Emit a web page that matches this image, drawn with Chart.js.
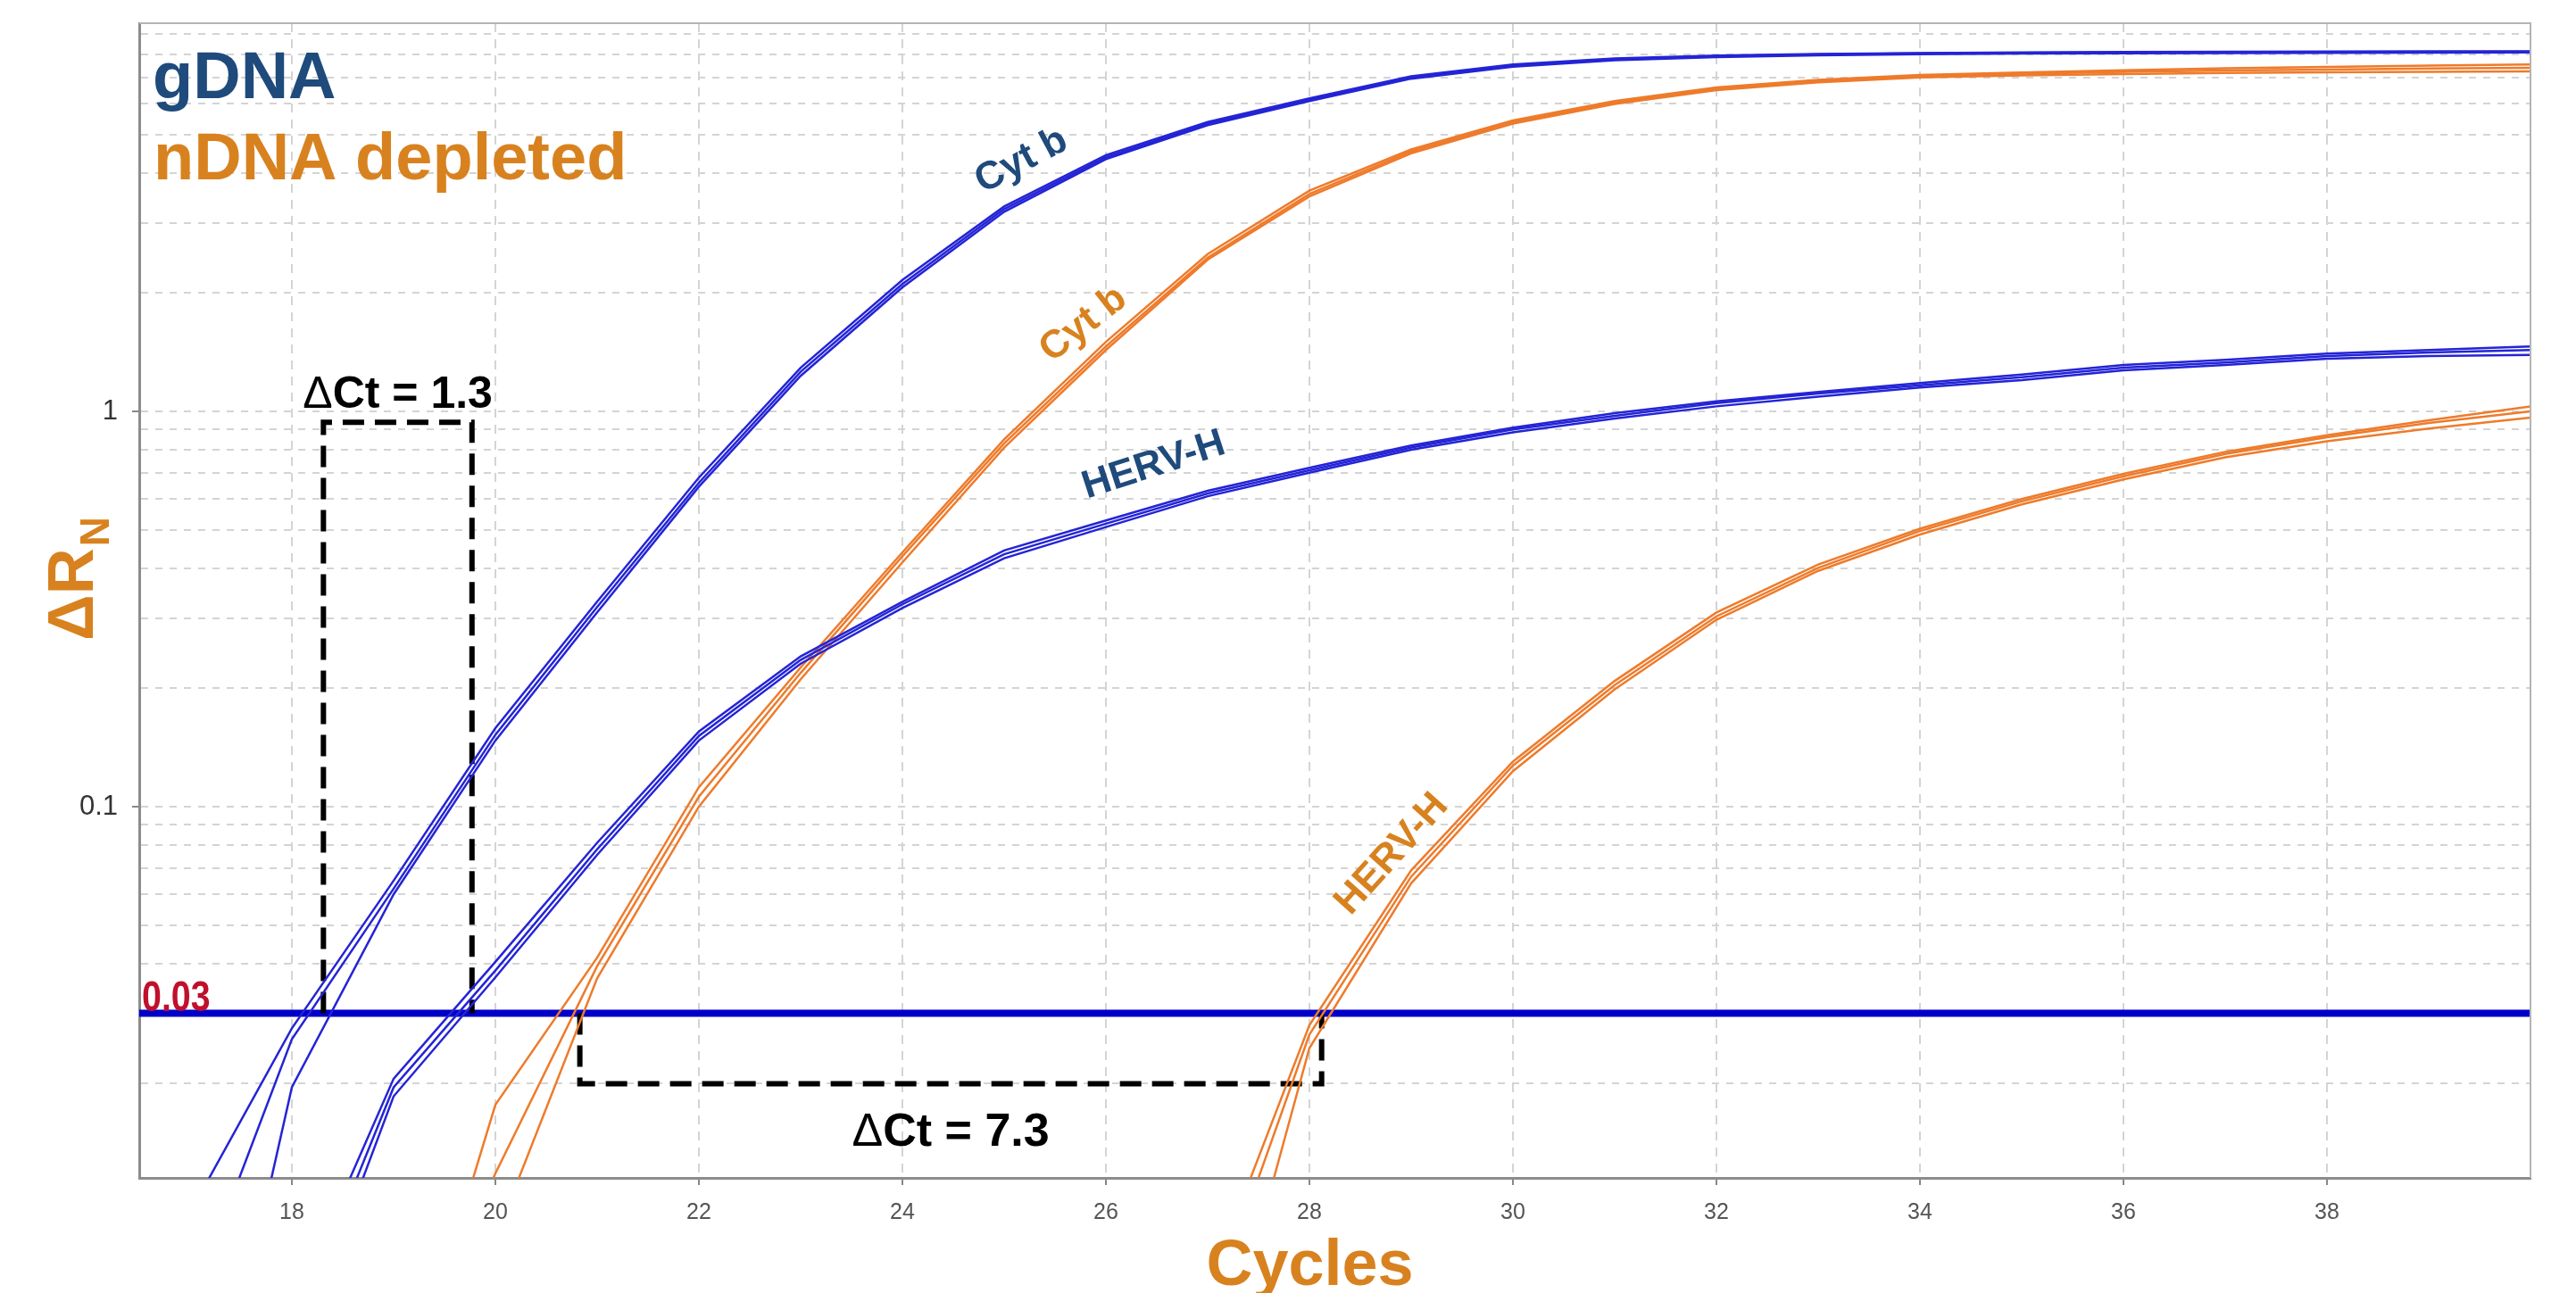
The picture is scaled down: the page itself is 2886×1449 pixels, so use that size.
<!DOCTYPE html>
<html>
<head>
<meta charset="utf-8">
<script src="https://cdn.jsdelivr.net/npm/chart.js@4.4.1/dist/chart.umd.min.js"></script>
<style>
  html, body { margin: 0; padding: 0; background: #fff; }
  #wrap { width: 2886px; height: 1449px; }
</style>
</head>
<body>
<div id="wrap"><canvas id="qpcrChart"></canvas></div>
<script>
const cycles = [17, 18, 19, 20, 21, 22, 23, 24, 25, 26, 27, 28, 29, 30, 31, 32, 33, 34, 35, 36, 37, 38, 39, 40];

// gDNA, Cyt b (3 replicates)
const gdnaCytb1 = [0.0094, 0.0275, 0.065, 0.158, 0.33, 0.68, 1.29, 2.15, 3.3, 4.45, 5.4, 6.2, 7.05, 7.55, 7.82, 7.95, 8.02, 8.07, 8.1, 8.12, 8.13, 8.14, 8.15, 8.15];
const gdnaCytb2 = [0.0054, 0.0258, 0.062, 0.152, 0.32, 0.66, 1.26, 2.1, 3.25, 4.4, 5.35, 6.15, 7.0, 7.5, 7.78, 7.92, 8.0, 8.05, 8.08, 8.1, 8.11, 8.12, 8.12, 8.13];
const gdnaCytb3 = [0.0014, 0.0195, 0.06, 0.147, 0.31, 0.645, 1.23, 2.06, 3.2, 4.35, 5.3, 6.1, 6.95, 7.45, 7.74, 7.88, 7.96, 8.01, 8.04, 8.06, 8.07, 8.08, 8.09, 8.1];

// gDNA, HERV-H
const gdnaHerv1 = [null, 0.0053, 0.0205, 0.0405, 0.081, 0.155, 0.24, 0.33, 0.445, 0.53, 0.63, 0.72, 0.82, 0.91, 0.99, 1.06, 1.12, 1.18, 1.24, 1.31, 1.35, 1.4, 1.43, 1.46];
const gdnaHerv2 = [null, 0.0045, 0.0195, 0.0385, 0.078, 0.151, 0.235, 0.325, 0.435, 0.52, 0.62, 0.71, 0.81, 0.9, 0.975, 1.05, 1.11, 1.165, 1.22, 1.29, 1.33, 1.38, 1.41, 1.43];
const gdnaHerv3 = [null, 0.0038, 0.0185, 0.037, 0.0755, 0.147, 0.23, 0.318, 0.425, 0.51, 0.61, 0.7, 0.8, 0.885, 0.96, 1.03, 1.09, 1.15, 1.2, 1.27, 1.31, 1.36, 1.38, 1.39];

// nDNA depleted, Cyt b
const ndnaCytb1 = [null, null, 0.0025, 0.0176, 0.0415, 0.112, 0.225, 0.44, 0.85, 1.5, 2.5, 3.62, 4.6, 5.45, 6.1, 6.6, 6.9, 7.1, 7.2, 7.3, 7.38, 7.44, 7.5, 7.55];
const ndnaCytb2 = [null, null, 0.003, 0.0118, 0.0395, 0.106, 0.218, 0.43, 0.83, 1.46, 2.45, 3.55, 4.55, 5.4, 6.05, 6.55, 6.85, 7.05, 7.15, 7.23, 7.29, 7.33, 7.37, 7.4];
const ndnaCytb3 = [null, null, 0.002, 0.0081, 0.0368, 0.1, 0.21, 0.415, 0.81, 1.43, 2.42, 3.5, 4.5, 5.35, 6.0, 6.5, 6.8, 7.0, 7.08, 7.14, 7.18, 7.21, 7.23, 7.25];

// nDNA depleted, HERV-H
const ndnaHerv1 = [null, null, null, null, null, null, null, null, null, null, 0.006, 0.028, 0.069, 0.13, 0.208, 0.31, 0.41, 0.505, 0.6, 0.695, 0.79, 0.87, 0.95, 1.03];
const ndnaHerv2 = [null, null, null, null, null, null, null, null, null, null, 0.005, 0.0265, 0.0665, 0.127, 0.203, 0.303, 0.402, 0.498, 0.592, 0.685, 0.78, 0.86, 0.935, 1.0];
const ndnaHerv3 = [null, null, null, null, null, null, null, null, null, null, 0.0028, 0.0245, 0.064, 0.123, 0.198, 0.297, 0.395, 0.488, 0.582, 0.673, 0.765, 0.84, 0.905, 0.965];

const threshold = 0.03;

// dashed delta-Ct brackets
const ctBoxGdnaX = [18.31, 18.31, 19.77, 19.77];
const ctBoxGdnaY = [0.03, 0.939, 0.939, 0.03];
const ctBoxNdnaX = [20.83, 20.83, 28.12, 28.12];
const ctBoxNdnaY = [0.03, 0.0199, 0.0199, 0.03];

const xTicks = [18, 20, 22, 24, 26, 28, 30, 32, 34, 36, 38];
const yGrid = [0.02, 0.03, 0.04, 0.05, 0.06, 0.07, 0.08, 0.09,
               0.1, 0.2, 0.3, 0.4, 0.5, 0.6, 0.7, 0.8, 0.9,
               1, 2, 3, 4, 5, 6, 7, 8, 9];
const yTickLabels = [0.1, 1];

const navy = '#1f4a7c';
const orangeText = '#d8821f';
const blueLine = '#2424d6';
const orangeLine = '#ee7b2b';
const font = '"Liberation Sans", Arial, sans-serif';

const curveLabels = [
  { text: 'Cyt b',  x: 25.17, y: 4.3,    angle: -28, color: navy },
  { text: 'Cyt b',  x: 25.78, y: 1.66,   angle: -38, color: orangeText },
  { text: 'HERV-H', x: 26.47, y: 0.73,   angle: -18, color: navy },
  { text: 'HERV-H', x: 28.81, y: 0.0757, angle: -48, color: orangeText }
];

const toPoints = vals => cycles.map((c, i) => ({ x: c, y: vals[i] }));
const pairs = (xs, ys) => xs.map((v, i) => ({ x: v, y: ys[i] }));

function curve(vals, color) {
  return {
    data: toPoints(vals),
    borderColor: color,
    borderWidth: 2.5,
    pointRadius: 0,
    tension: 0,
    spanGaps: false,
    order: 0
  };
}

const datasets = [
  curve(gdnaCytb1, blueLine), curve(gdnaCytb2, blueLine), curve(gdnaCytb3, blueLine),
  curve(gdnaHerv1, blueLine), curve(gdnaHerv2, blueLine), curve(gdnaHerv3, blueLine),
  curve(ndnaCytb1, orangeLine), curve(ndnaCytb2, orangeLine), curve(ndnaCytb3, orangeLine),
  curve(ndnaHerv1, orangeLine), curve(ndnaHerv2, orangeLine), curve(ndnaHerv3, orangeLine),
  {
    data: pairs(ctBoxGdnaX, ctBoxGdnaY),
    borderColor: '#000', borderWidth: 6, borderDash: [24, 12],
    pointRadius: 0, tension: 0, order: 1
  },
  {
    data: pairs(ctBoxNdnaX, ctBoxNdnaY),
    borderColor: '#000', borderWidth: 6, borderDash: [24, 12],
    pointRadius: 0, tension: 0, order: 1
  },
  {
    data: [{ x: 16.5, y: threshold }, { x: 40, y: threshold }],
    borderColor: '#0000c8', borderWidth: 8,
    pointRadius: 0, order: 2
  }
];

function drawDeltaCt(ctx, value, cx, baseline, size) {
  ctx.font = `${size}px ${font}`;
  const wd = ctx.measureText('\u0394').width;
  ctx.font = `bold ${size}px ${font}`;
  const rest = 'Ct = ' + value;
  const wr = ctx.measureText(rest).width;
  const start = cx - (wd + wr) / 2;
  ctx.fillStyle = '#000';
  ctx.textAlign = 'left';
  ctx.textBaseline = 'alphabetic';
  ctx.font = `${size}px ${font}`;
  ctx.fillText('\u0394', start, baseline);
  ctx.font = `bold ${size}px ${font}`;
  ctx.fillText(rest, start + wd, baseline);
}

const annotations = {
  id: 'annotations',
  afterDraw(chart) {
    const { ctx, chartArea: a, scales: { x, y } } = chart;
    ctx.save();

    // top and right frame
    ctx.strokeStyle = '#b4b4b4';
    ctx.lineWidth = 2;
    ctx.beginPath();
    ctx.moveTo(a.left, a.top);
    ctx.lineTo(a.right, a.top);
    ctx.lineTo(a.right, a.bottom);
    ctx.stroke();

    // group names
    ctx.textAlign = 'left';
    ctx.textBaseline = 'alphabetic';
    ctx.font = `bold 74px ${font}`;
    ctx.fillStyle = navy;
    ctx.fillText('gDNA', a.left + 15, a.top + 84);
    ctx.fillStyle = orangeText;
    ctx.fillText('nDNA depleted', a.left + 16, a.top + 175);

    // threshold value
    const ty = y.getPixelForValue(threshold);
    ctx.save();
    ctx.translate(a.left + 3, ty - 3);
    ctx.scale(0.82, 1);
    ctx.font = `bold 48px ${font}`;
    ctx.fillStyle = '#c0102c';
    ctx.fillText('0.03', 0, 0);
    ctx.restore();

    // delta Ct texts
    drawDeltaCt(ctx, '1.3', x.getPixelForValue((ctBoxGdnaX[0] + ctBoxGdnaX[2]) / 2), y.getPixelForValue(1.02), 50);
    drawDeltaCt(ctx, '7.3', x.getPixelForValue((ctBoxNdnaX[0] + ctBoxNdnaX[2]) / 2), y.getPixelForValue(0.0139), 52);

    // curve labels
    ctx.font = `bold 44px ${font}`;
    ctx.textAlign = 'center';
    ctx.textBaseline = 'middle';
    curveLabels.forEach(l => {
      ctx.save();
      ctx.translate(x.getPixelForValue(l.x), y.getPixelForValue(l.y));
      ctx.rotate(l.angle * Math.PI / 180);
      ctx.fillStyle = l.color;
      ctx.fillText(l.text, 0, 0);
      ctx.restore();
    });

    // axis titles
    ctx.fillStyle = orangeText;
    ctx.textAlign = 'center';
    ctx.textBaseline = 'alphabetic';
    ctx.font = `bold 72px ${font}`;
    ctx.fillText('Cycles', (a.left + a.right) / 2 - 28, 1440);

    ctx.save();
    ctx.translate(a.left - 52, a.top + 692);
    ctx.rotate(-Math.PI / 2);
    ctx.textAlign = 'left';
    ctx.font = `bold 72px ${font}`;
    ctx.fillText('\u0394R', 0, 0);
    const w = ctx.measureText('\u0394R').width;
    ctx.font = `bold 46px ${font}`;
    ctx.fillText('N', w + 2, 18);
    ctx.restore();

    ctx.restore();
  }
};

new Chart(document.getElementById('qpcrChart'), {
  type: 'line',
  data: { datasets },
  options: {
    responsive: true,
    maintainAspectRatio: false,
    animation: false,
    events: [],
    layout: { padding: { top: 26, right: 51, left: 0, bottom: 0 } },
    plugins: { legend: { display: false }, tooltip: { enabled: false } },
    scales: {
      x: {
        type: 'linear',
        min: 16.5,
        max: 40,
        afterBuildTicks: s => { s.ticks = xTicks.map(v => ({ value: v })); },
        afterFit: s => { s.height = 129; s.paddingLeft = 0; s.paddingRight = 0; },
        ticks: {
          autoSkip: false,
          maxRotation: 0,
          padding: 16,
          color: '#555',
          font: { family: font, size: 25 },
          callback: v => String(v)
        },
        grid: { color: '#d4d4d4', lineWidth: 2, tickLength: 8, tickColor: '#888', tickWidth: 2 },
        border: { display: true, color: '#8c8c8c', width: 3, dash: [10, 8] }
      },
      y: {
        type: 'logarithmic',
        min: 0.0115,
        max: 9.6,
        afterBuildTicks: s => { s.ticks = yGrid.map(v => ({ value: v })); },
        afterFit: s => { s.width = 156; s.paddingTop = 0; s.paddingBottom = 0; },
        ticks: {
          autoSkip: false,
          padding: 16,
          color: '#333',
          font: { family: font, size: 31 },
          callback: v => yTickLabels.includes(v) ? String(v) : ''
        },
        grid: {
          color: '#d4d4d4',
          lineWidth: 2,
          tickLength: 8,
          tickWidth: 2,
          tickColor: c => (c.tick && yTickLabels.includes(c.tick.value)) ? '#888' : 'rgba(0,0,0,0)'
        },
        border: { display: true, color: '#8c8c8c', width: 3, dash: [8, 8] }
      }
    }
  },
  plugins: [annotations]
});
</script>
</body>
</html>
